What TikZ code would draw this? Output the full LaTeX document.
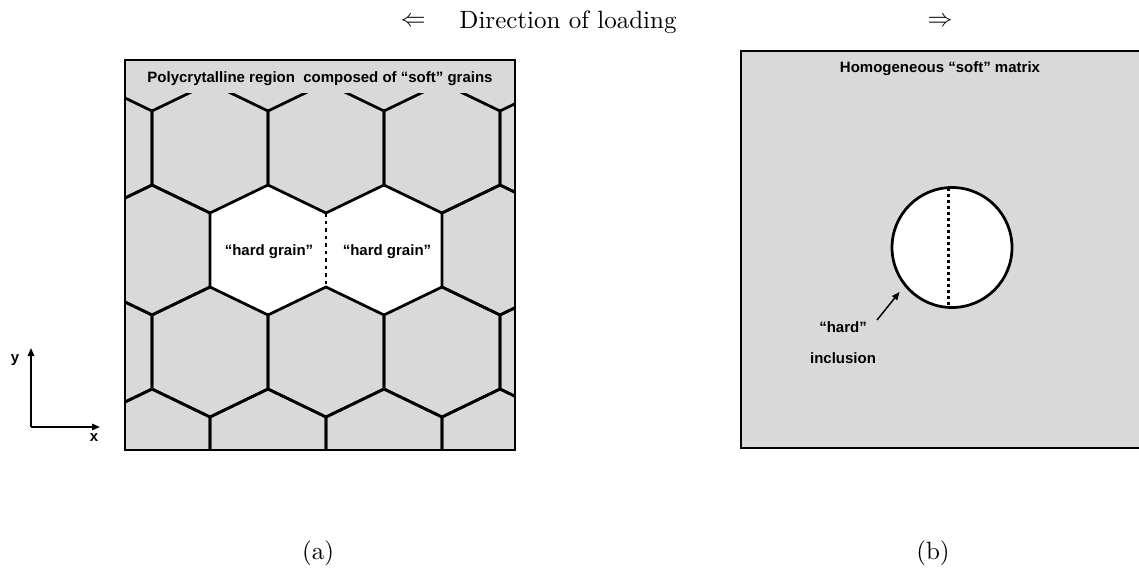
\documentclass[tikz,border=0pt]{standalone}
\usepackage{fontspec}
\newfontfamily\arialish{Liberation Sans}
\usetikzlibrary{arrows.meta}
\definecolor{softgray}{RGB}{217,217,217}
\begin{document}
\begin{tikzpicture}[x=0.4pt,y=-0.4pt,
  lbl/.style={font=\arialish\bfseries\fontsize{6pt}{7pt}\selectfont, inner sep=0pt},
  captext/.style={font=\fontsize{10pt}{12pt}\selectfont, inner sep=0pt},
  grain/.style={line width=1.1pt, line join=miter},
  boxline/.style={line width=1pt},
  dotline/.style={line width=0.8pt, dash pattern=on 1.4pt off 1.6pt},
  dotline2/.style={line width=1.2pt, dash pattern=on 1.2pt off 1.2pt},
  ax/.style={line width=0.6pt, -{Triangle[length=3.2pt,width=2.6pt]}}]
\useasboundingbox (0,0) rectangle (1139,573);

% ---------- heading ----------
\node[captext] (larr) at (413,22) {$\Leftarrow$};
\node[captext] (dir) at (568,22) {Direction of loading};
\node[captext] (rarr) at (940,22) {$\Rightarrow$};

% ---------- panel (a) ----------
\fill[softgray] (125,60) rectangle (515,450);
\foreach \cx in {268,384}{
  \fill[white] (\cx,250-65) -- (\cx+58,250-37) -- (\cx+58,250+37) -- (\cx,250+65)
     -- (\cx-58,250+37) -- (\cx-58,250-37) -- cycle;
}
\begin{scope}
  \clip (125,93) rectangle (515,450);
  \foreach \cy in {148,352}{
    \foreach \cx in {94,210,326,442,558}{
      \draw[grain] (\cx,\cy-65) -- (\cx+58,\cy-37) -- (\cx+58,\cy+37) -- (\cx,\cy+65)
        -- (\cx-58,\cy+37) -- (\cx-58,\cy-37) -- cycle;
    }
  }
  \foreach \cy/\cx in {250/152,250/500,454/152,454/268,454/384,454/500}{
    \draw[grain] (\cx,\cy-65) -- (\cx+58,\cy-37) -- (\cx+58,\cy+37) -- (\cx,\cy+65)
      -- (\cx-58,\cy+37) -- (\cx-58,\cy-37) -- cycle;
  }
\end{scope}
\coordinate (gbTop) at (326,213);
\coordinate (gbBot) at (326,287);
\draw[dotline] (gbTop) -- (gbBot);
\draw[boxline] (125,60) rectangle (515,450);

\node[lbl] (titleA) at (320,79) {Polycrytalline region\ \ composed of “soft” grains};
\node[lbl] (hardL) at (269,252) {“hard grain”};
\node[lbl] (hardR) at (387,252) {“hard grain”};

% ---------- axes ----------
\coordinate (orig) at (31,427);
\coordinate (ytip) at (31,348);
\coordinate (xtip) at (100,427);
\draw[ax] (orig) -- (ytip);
\draw[ax] (orig) -- (xtip);
\node[lbl] (ylab) at (15,360) {y};
\node[lbl] (xlab) at (94,438) {x};

% ---------- panel (b) ----------
\fill[softgray] (741,51) rectangle (1139,448);
\draw[boxline] (1139,51) -- (741,51) -- (741,448) -- (1139,448);
\node[lbl] (titleB) at (940,69) {Homogeneous “soft” matrix};
\node[circle, draw, fill=white, line width=1.1pt, minimum size=48pt, inner sep=0pt] (incl) at (952,247.5) {};
\coordinate (cTop) at (948,188);
\coordinate (cBot) at (948,307);
\draw[dotline2] (cTop) -- (cBot);
\node[lbl] (hardB) at (843,327) {“hard”};
\node[lbl] (inclB) at (843,358) {inclusion};
\coordinate (arrStart) at (877,320);
\draw[line width=0.6pt, -{Triangle[length=3.2pt,width=2.6pt]}, shorten >=3pt] (arrStart) -- (incl.219);

% ---------- captions ----------
\node[captext] (capA) at (318,553) {(a)};
\node[captext] (capB) at (933,553) {(b)};
\end{tikzpicture}
\end{document}
